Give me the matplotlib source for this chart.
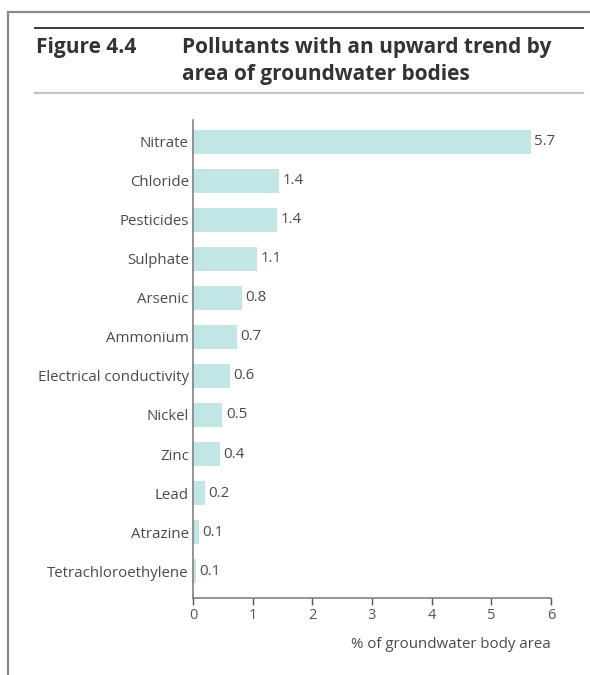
import matplotlib
matplotlib.use("Agg")
import matplotlib.pyplot as plt
from matplotlib.lines import Line2D

pollutants = [
    "Nitrate", "Chloride", "Pesticides", "Sulphate", "Arsenic", "Ammonium",
    "Electrical conductivity", "Nickel", "Zinc", "Lead", "Atrazine",
    "Tetrachloroethylene",
]
area_pct = [5.66, 1.44, 1.40, 1.07, 0.82, 0.74, 0.62, 0.49, 0.45, 0.20, 0.10, 0.05]
value_labels = ["5.7", "1.4", "1.4", "1.1", "0.8", "0.7", "0.6", "0.5", "0.4",
                "0.2", "0.1", "0.1"]
x_ticks = [0, 1, 2, 3, 4, 5, 6]

W, H = 590, 675
plt.rcParams["font.family"] = ["Open Sans", "DejaVu Sans"]

fig = plt.figure(figsize=(W / 100, H / 100), dpi=100)


def fx(px):
    return px / W


def fy(py):
    return 1 - py / H


# page frame
fig.add_artist(Line2D([fx(8), fx(8)], [fy(12), fy(680)], color="#8a8a8a", lw=1.6))
fig.add_artist(Line2D([fx(8), fx(592)], [fy(12), fy(12)], color="#8a8a8a", lw=1.6))

# header rules
fig.add_artist(Line2D([fx(35), fx(583)], [fy(28), fy(28)], color="#3a3a3a", lw=1.4))
fig.add_artist(Line2D([fx(35), fx(583)], [fy(93), fy(93)], color="#c4c4c4", lw=1.6))

title_kw = dict(fontsize=15, fontweight="bold", color="#333333",
                va="baseline", ha="left")
fig.text(fx(36), fy(53), "Figure 4.4", **title_kw)
fig.text(fx(182), fy(53), "Pollutants with an upward trend by", **title_kw)
fig.text(fx(182), fy(80), "area of groundwater bodies", **title_kw)

ax = fig.add_axes([fx(193), fy(598), fx(551) - fx(193), fy(120) - fy(598)])
y = list(range(len(pollutants)))
ax.barh(y, area_pct, height=0.62, color="#c2e6e5", zorder=2)

for yi, v, lab in zip(y, area_pct, value_labels):
    ax.text(v + 0.06, yi, lab, va="center", ha="left", fontsize=10.8, color="#4a4a4a")

ax.set_xlim(0, 6)
ax.set_ylim(11.69, -0.56)
ax.set_yticks(y)
ax.set_yticklabels(pollutants, fontsize=10.8, color="#4a4a4a")
ax.set_xticks(x_ticks)
ax.set_xticklabels([str(t) for t in x_ticks], fontsize=10.5, color="#555555")
ax.tick_params(axis="y", length=0, pad=3)
ax.tick_params(axis="x", length=5, width=1, color="#555555", pad=2)

for side in ("top", "right"):
    ax.spines[side].set_visible(False)
for side in ("left", "bottom"):
    ax.spines[side].set_color("#777777")
    ax.spines[side].set_linewidth(1.1)

ax.set_xlabel("% of groundwater body area", fontsize=10.8, color="#4a4a4a",
              ha="right", va="center")
ax.xaxis.set_label_coords(1.0, -47 / 478)

fig.savefig("out.png", dpi=100)
